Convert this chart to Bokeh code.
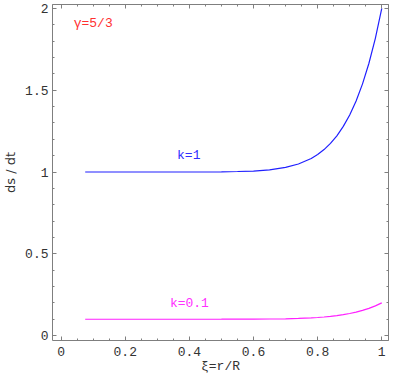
from bokeh.plotting import figure
from bokeh.models import Range1d, LinearAxis, FixedTicker, ColumnDataSource
from bokeh.core.properties import value
from bokeh.embed import file_html
from bokeh.resources import INLINE

# ---- data ----
xi = [0.075, 0.2, 0.3, 0.4, 0.5, 0.55, 0.6, 0.65, 0.7, 0.74, 0.78, 0.8, 0.82,
      0.84, 0.86, 0.88, 0.9, 0.92, 0.94, 0.96, 0.98, 1.0]
ds_k1 = [1.0, 1.0, 1.0, 1.0, 1.001, 1.003, 1.006, 1.013, 1.028, 1.049, 1.083,
         1.107, 1.137, 1.175, 1.221, 1.279, 1.349, 1.434, 1.539, 1.665, 1.817, 2.0]
ds_k01 = [0.1, 0.1, 0.1, 0.1, 0.1001, 0.1003, 0.1006, 0.1013, 0.1028, 0.1049,
          0.1083, 0.1107, 0.1137, 0.1175, 0.1221, 0.1279, 0.1349, 0.1434,
          0.1539, 0.1665, 0.1817, 0.2]

x_major = [0, 0.2, 0.4, 0.6, 0.8, 1.0]
x_labels = ["0", "0.2", "0.4", "0.6", "0.8", "1"]
y_major = [0, 0.5, 1.0, 1.5, 2.0]
y_labels = ["0", "0.5", "1", "1.5", "2"]

ann_text = ["\u03b3=5/3", "k=1", "k=0.1"]
ann_x = [0.10, 0.398, 0.40]
ann_y = [1.905, 1.10, 0.196]
ann_color = ["#ff3030", "#3030ff", "#ff30ff"]

x_title = "\u03be=r/R"
y_title = "ds / dt"

FRAME = "#7f7f7f"
MONO = "Liberation Mono"

p = figure(width=389, height=376, output_backend="svg", toolbar_location=None,
           x_range=Range1d(-0.027, 1.021), y_range=Range1d(-0.03, 2.024),
           min_border_left=30, min_border_right=1, min_border_top=4,
           min_border_bottom=10)
p.grid.visible = False
p.outline_line_color = None
p.background_fill_color = "white"
p.border_fill_color = "white"

x_minor_n = 4
y_minor_n = 5


def minors(major, n):
    step = (major[1] - major[0]) / n
    return [round(major[0] + i * step, 4) for i in range(-n, n * len(major) + n)]


def frame_style(ax):
    ax.axis_line_color = FRAME
    ax.major_tick_line_color = FRAME
    ax.minor_tick_line_color = FRAME
    ax.major_tick_in = 4
    ax.major_tick_out = 0
    ax.minor_tick_in = 2
    ax.minor_tick_out = 0


def labelled(ax, major, labels, n, standoff):
    ax.ticker = FixedTicker(ticks=major, minor_ticks=minors(major, n))
    frame_style(ax)
    ax.major_label_overrides = {m: l for m, l in zip(major, labels)}
    ax.major_label_text_font = MONO
    ax.major_label_text_font_size = "13px"
    ax.major_label_text_color = "#333333"
    ax.major_label_standoff = standoff


def bare(ticks_at, tick_len):
    ax = LinearAxis(ticker=FixedTicker(ticks=[], minor_ticks=ticks_at))
    frame_style(ax)
    ax.minor_tick_in = tick_len
    ax.major_label_standoff = 0
    return ax


labelled(p.xaxis[0], x_major, x_labels, x_minor_n, 6)
labelled(p.yaxis[0], y_major, y_labels, y_minor_n, 4)
p.xaxis[0].axis_label = x_title
p.xaxis[0].axis_label_text_font = MONO
p.xaxis[0].axis_label_text_font_size = "13px"
p.xaxis[0].axis_label_text_font_style = "normal"
p.xaxis[0].axis_label_text_color = "#333333"
p.xaxis[0].axis_label_standoff = 0
p.yaxis[0].axis_label = y_title
p.yaxis[0].axis_label_text_font = "DejaVu Sans"
p.yaxis[0].axis_label_text_font_size = "13px"
p.yaxis[0].axis_label_text_font_style = "normal"
p.yaxis[0].axis_label_text_color = "#333333"
p.yaxis[0].axis_label_standoff = 4

# frame ticks on the top and right sides, no labels
p.add_layout(bare(minors(x_major, x_minor_n), 2), "above")
p.add_layout(bare(x_major, 4), "above")
p.add_layout(bare(minors(y_major, y_minor_n), 2), "right")
p.add_layout(bare(y_major, 4), "right")

p.line(xi, ds_k1, line_color="#2020ff", line_width=1.2)
p.line(xi, ds_k01, line_color="#ff20ff", line_width=1.2)

src = ColumnDataSource(dict(x=ann_x, y=ann_y, t=ann_text, c=ann_color))
p.text(x="x", y="y", text="t", text_color="c", source=src,
       text_font=value(MONO), text_font_size="13px",
       text_align="center", text_baseline="middle")

open("out.html", "w").write(file_html(p, INLINE))
